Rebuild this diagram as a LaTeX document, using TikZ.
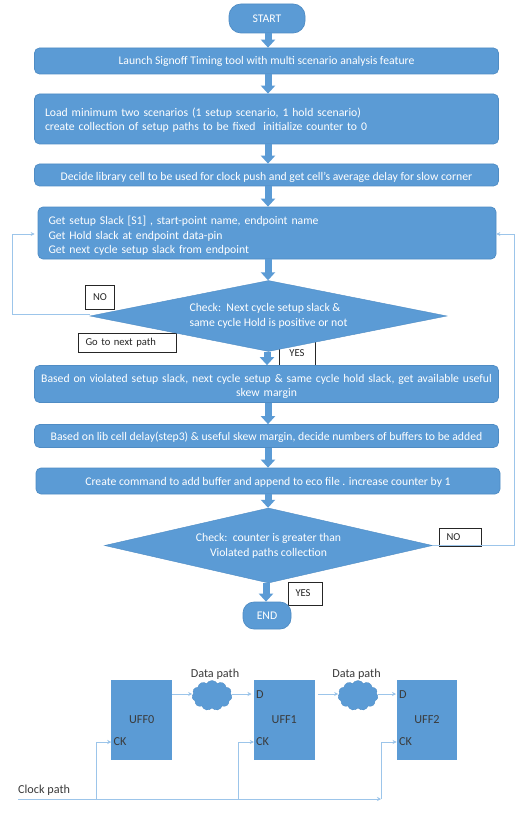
\documentclass[tikz,border=0pt]{standalone}
\usepackage{fontspec}
\setmainfont{Carlito}
\usetikzlibrary{shapes.geometric,shapes.symbols,arrows.meta,positioning}
\definecolor{fillblue}{HTML}{5B9BD5}
\definecolor{edgeblue}{HTML}{4F8CC4}
\definecolor{lineblue}{HTML}{9CC5EA}
\definecolor{inktext}{HTML}{3A3A3A}
\tikzset{
  x=1pt,y=-1pt,
  proc/.style={draw=edgeblue,line width=0.7pt,fill=fillblue,rounded corners=5pt,text=white,font=\fontsize{11.7}{14.5}\selectfont,minimum width=#1,inner sep=0pt,align=center,text depth=0pt},
  procL/.style={proc=#1,text width=#1-21pt,align=left},
  termbox/.style={draw=edgeblue,line width=0.7pt,fill=fillblue,rounded corners=12pt,text=white,font=\fontsize{11.7}{14}\selectfont,inner sep=0pt},
  deci/.style={diamond,aspect=4.8,fill=fillblue,draw=edgeblue,line width=0.4pt,text=white,font=\fontsize{11.7}{15}\selectfont,inner sep=0pt},
  tagbox/.style={draw=black!85,line width=0.7pt,fill=white,text=black!85,font=\fontsize{10.6}{12}\selectfont,inner sep=0pt,anchor=center},
  tagleft/.style={tagbox,inner xsep=7.5pt,text width=#1-15pt,align=left},
  ffbox/.style={fill=fillblue,minimum width=60.5pt,minimum height=80pt,inner sep=0pt,text=inktext,font=\fontsize{12.2}{14}\selectfont},
  blob/.style={cloud,cloud puffs=11,cloud puff arc=120,aspect=1.3,fill=fillblue,draw=edgeblue,line width=0.3pt,minimum width=40pt,minimum height=30pt,inner sep=0pt},
  pathlabel/.style={text=inktext,font=\fontsize{12.2}{14}\selectfont,inner sep=0pt},
  pinlabel/.style={text=inktext,font=\fontsize{12.2}{14}\selectfont,inner sep=0pt},
  blockarrow/.style={draw=fillblue,line width=7pt,-{Triangle[width=14pt,length=8pt,fill=fillblue]}},
  thinlink/.style={draw=lineblue,line width=0.9pt,-{Stealth[length=4pt,width=4pt,fill=fillblue]}},
  thinplain/.style={draw=lineblue,line width=0.9pt},
}
\begin{document}
\begin{tikzpicture}
\useasboundingbox (0,0) rectangle (524,813);
\fill[white] (0,0) rectangle (524,813);

\coordinate (ax) at (268,0);
\coordinate (ay) at (267,0);
\coordinate (az) at (266,0);

% flow nodes
\node[termbox,minimum width=76pt,minimum height=29pt] (start) at (267,18.5) {START};
\node[proc=464pt,minimum height=26pt,text height=8pt] (b1) at (266.5,61) {Launch Signoff Timing tool with multi scenario analysis feature};
\node[procL=464pt,minimum height=50pt,text height=0pt,text depth=5pt] (b2) at (266.5,119) {Load minimum two scenarios (1 setup scenario, 1 hold scenario)\\create collection of setup paths to be fixed\ \ initialize counter to 0};
\node[proc=464pt,minimum height=22pt,text height=10.4pt] (b3) at (266.5,175) {Decide library cell to be used for clock push and get cell’s average delay for slow corner};
\node[procL=458pt,minimum height=52pt,text height=0pt,text depth=17pt] (b4) at (267,233) {Get setup Slack [S1] , start-point name, endpoint name\\Get Hold slack at endpoint data-pin\\Get next cycle setup slack from endpoint};

\node[tagbox,minimum width=29pt,minimum height=24pt] (no1) at (100,297) {NO};
\node[tagleft=98pt,minimum height=19pt] (go) at (127,342.5) {Go to next path};
\node[tagbox,minimum width=36pt,minimum height=24pt] (yes1) at (297,353) {YES};

\node[proc=464pt,minimum height=37pt,text width=460pt,text height=0pt,text depth=4pt] (b5) at (266.5,384) {Based on violated setup slack, next cycle setup \& same cycle hold slack, get available useful\\skew margin};
\node[proc=464pt,minimum height=23pt,text height=8.4pt] (b6) at (266.5,436) {Based on lib cell delay(step3) \& useful skew margin, decide numbers of buffers to be added};
\node[proc=464pt,minimum height=26pt,text height=8pt] (b7) at (268,481) {Create command to add buffer and append to eco file . increase counter by 1};

\node[tagleft=42pt,minimum height=18pt] (no2) at (460,537) {NO};
\node[tagleft=34pt,minimum height=23pt] (yes2) at (305,593.5) {YES};
\node[termbox,minimum width=48pt,minimum height=27pt,rounded corners=11pt] (end) at (267,615.5) {END};

% feedback lines
\coordinate (leftbend) at (12.5,314);
\coordinate (lefttop) at (12.5,234);
\coordinate (rightbend) at (514.5,545.5);
\coordinate (righttop) at (514.5,234);

% block arrows
\draw[blockarrow] (start.south -| ax) -- (ax |- b1.north);
\draw[blockarrow] (b1.south -| ax) -- (ax |- b2.north);
\draw[blockarrow] (b2.south -| ax) -- (ax |- b3.north);
\draw[blockarrow] (b3.south -| ax) -- (ax |- b4.north);

\node[deci,minimum width=357pt,minimum height=71pt] (d1) at (268.5,316) {\begin{tabular}{@{}l@{}}Check:\ \ Next cycle setup slack \&\\same cycle Hold is positive or not\end{tabular}};
\draw[blockarrow] (b4.south -| ax) -- (ax |- d1.north);

\draw[thinplain] ([yshift=2pt]d1.west) -- (leftbend) -- (lefttop);
\draw[thinlink] (lefttop) -- ([xshift=-3pt]lefttop -| b4.west);
\draw[blockarrow] (d1.south -| ay) -- (ay |- b5.north);
\draw[blockarrow] (b5.south -| ax) -- (ax |- b6.north);
\draw[blockarrow] (b6.south -| ax) -- (ax |- b7.north);

\node[deci,aspect=4.4,minimum width=328pt,minimum height=75pt,align=center] (d2) at (268.5,545.5) {Check:\ \ counter is greater than\\Violated paths collection};
\draw[blockarrow] (b7.south -| ax) -- (ax |- d2.north);
\draw[blockarrow] (d2.south -| az) -- (az |- end.north);
\draw[thinplain] (d2.east) -- (rightbend) -- (righttop);
\draw[thinlink] (righttop) -- (righttop -| b4.east);

% flip-flop chain
\node[ffbox] (f0) at (141.7,720) {UFF0};
\node[ffbox] (f1) at (284.3,720) {UFF1};
\node[ffbox] (f2) at (427,720) {UFF2};
\node[blob] (c1) at (212,695.5) {};
\node[blob] (c2) at (358,695.5) {};
\node[pathlabel] (dp1) at (215,674) {Data path};
\node[pathlabel] (dp2) at (356.5,674) {Data path};
\node[pinlabel,anchor=west] (d1pin) at (256,695) {D};
\node[pinlabel,anchor=west] (d2pin) at (399,695) {D};
\node[pinlabel,anchor=west] (ck0) at (113.5,742) {CK};
\node[pinlabel,anchor=west] (ck1) at (256,742) {CK};
\node[pinlabel,anchor=west] (ck2) at (399,742) {CK};
\node[pathlabel,anchor=west] (clk) at (18,790) {Clock path};

\coordinate (d0out) at (172,694);
\coordinate (d1in) at (251.5,694);
\coordinate (d1out) at (318,694);
\coordinate (d2in) at (396,694);
\draw[thinlink] (d0out) -- (c1.west |- d0out);
\draw[thinlink] (c1.east |- d1in) -- (d1in);
\draw[thinlink] (d1out) -- (c2.west |- d1out);
\draw[thinlink] (c2.east |- d2in) -- (d2in);

\coordinate (clk0) at (18,799);
\coordinate (clkend) at (381,799);
\coordinate (j0) at (96,799);
\coordinate (j1) at (238,799);
\draw[thinlink] (clk0) -- (clkend);
\draw[thinlink] (j0) |- (f0.west |- ck0);
\draw[thinlink] (j1) |- (f1.west |- ck1);
\draw[thinlink] (clkend) |- (f2.west |- ck2);
\end{tikzpicture}
\end{document}
